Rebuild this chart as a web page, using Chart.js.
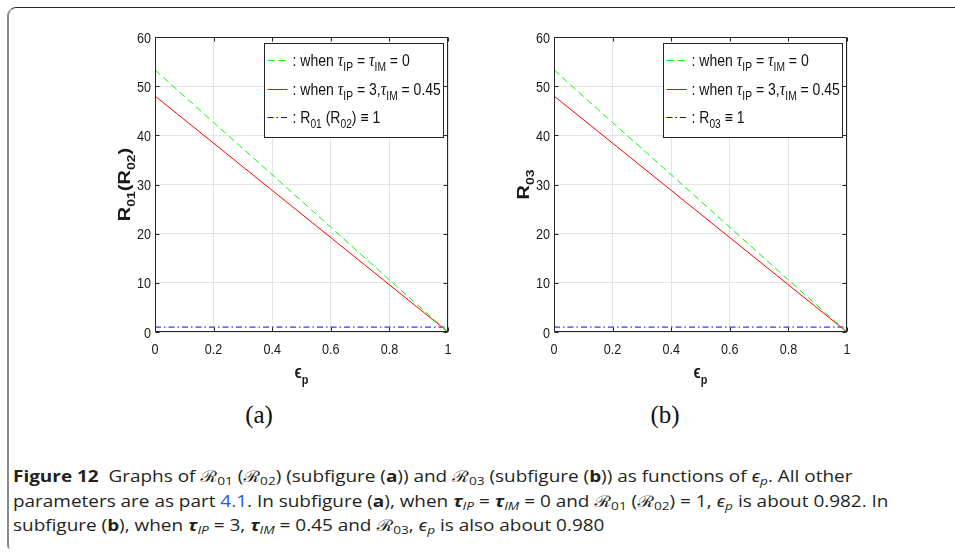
<!DOCTYPE html>
<html><head><meta charset="utf-8">
<script src="https://cdn.jsdelivr.net/npm/chart.js@4.4.0/dist/chart.umd.min.js"></script>
<style>
html,body{margin:0;padding:0;background:#fff;}
body{width:955px;height:553px;overflow:hidden;position:relative;font-family:'Open Sans','Noto Sans',sans-serif;}
#frame{position:absolute;left:7px;top:7px;width:1000px;height:541px;border-left:2px solid #8a8a8a;border-top:1px solid #2a2a2a;border-top-left-radius:9px;border-bottom-left-radius:4px;}
canvas{position:absolute;}
.sub{position:absolute;width:100px;text-align:center;font-family:'Liberation Serif',serif;font-size:25px;line-height:30px;color:#111;top:400px;}
.ln{position:absolute;left:13px;white-space:nowrap;font-size:16px;line-height:24px;color:#231f20;transform-origin:0 0;}
.ln sub{font-size:0.72em;vertical-align:-0.25em;line-height:0;}
.cal{font-family:'DejaVu Serif','Noto Sans',serif;font-style:italic;}
.lnk{color:#2a5bd7;}
</style>
</head><body>
<div id="frame"></div>
<canvas id="ca" width="380" height="380" style="left:90px;top:20px"></canvas>
<canvas id="cb" width="380" height="380" style="left:489px;top:20px"></canvas>
<div class="sub" style="left:209px">(a)</div>
<div class="sub" style="left:615px">(b)</div>
<div class="ln" id="l1" style="top:464px"><b>Figure 12</b>&nbsp; Graphs of <span class="cal">ℛ</span><sub>01</sub> (<span class="cal">ℛ</span><sub>02</sub>) (subfigure (<b>a</b>)) and <span class="cal">ℛ</span><sub>03</sub> (subfigure (<b>b</b>)) as functions of <i>ϵ<sub>p</sub></i>. All other</div>
<div class="ln" id="l2" style="top:488.5px">parameters are as part <span class="lnk">4.1</span>. In subfigure (<b>a</b>), when <b><i>τ</i></b><sub><i>IP</i></sub> = <b><i>τ</i></b><sub><i>IM</i></sub> = 0 and <span class="cal">ℛ</span><sub>01</sub> (<span class="cal">ℛ</span><sub>02</sub>) = 1, <i>ϵ<sub>p</sub></i> is about 0.982. In</div>
<div class="ln" id="l3" style="top:513px">subfigure (<b>b</b>), when <b><i>τ</i></b><sub><i>IP</i></sub> = 3, <b><i>τ</i></b><sub><i>IM</i></sub> = 0.45 and <span class="cal">ℛ</span><sub>03</sub>, <i>ϵ<sub>p</sub></i> is also about 0.980</div>
<script>
// ---- data ----
const xValues = [0, 0.2, 0.4, 0.6, 0.8, 1];
const greenA = [53.3, 42.6, 32.0, 21.3, 10.6, 0];
const redA   = [48.0, 38.4, 28.8, 19.2, 9.6, 0];
const blueA  = [1, 1, 1, 1, 1, 1];
const greenB = [53.3, 42.6, 32.0, 21.3, 10.6, 0];
const redB   = [48.0, 38.4, 28.8, 19.2, 9.6, 0];
const blueB  = [1, 1, 1, 1, 1, 1];
const xTickValues = [0, 0.2, 0.4, 0.6, 0.8, 1];
const xTickLabels = ['0', '0.2', '0.4', '0.6', '0.8', '1'];
const yTickValues = [0, 10, 20, 30, 40, 50, 60];
const yTickLabels = ['0', '10', '20', '30', '40', '50', '60'];
const legendA = [': when τ_{IP} = τ_{IM} = 0', ': when τ_{IP} = 3,τ_{IM} = 0.45', ': R_{01} (R_{02}) ≡ 1'];
const legendB = [': when τ_{IP} = τ_{IM} = 0', ': when τ_{IP} = 3,τ_{IM} = 0.45', ': R_{03} ≡ 1'];
const yTitleA = 'R_{01}(R_{02})';
const yTitleB = 'R_{03}';
const xTitle = 'ϵ_{p}';

const SANS = '"Liberation Sans",Arial,Helvetica,sans-serif';
const AX = '#262626';
const SQ = 0.84; // horizontal squeeze of the exported figure

function parseRich(s){
  const segs=[]; let i=0;
  while(i<s.length){
    if(s[i]==='_' && s[i+1]==='{'){ const j=s.indexOf('}',i); segs.push({t:s.slice(i+2,j),sub:true}); i=j+1; }
    else { let j=i; while(j<s.length && !(s[j]==='_'&&s[j+1]==='{')) j++;
      s.slice(i,j).split(/(τ)/).forEach(p=>{ if(p) segs.push({t:p,greek:p==='τ'}); }); i=j; }
  }
  return segs;
}
function fontFor(s,size,bold){
  const fs = s.sub ? Math.round(size*0.72) : size;
  if(s.greek) return `italic ${fs+2}px "Liberation Serif",serif`;
  return `${bold?'bold ':''}${fs}px ${SANS}`;
}
function richWidth(ctx,segs,size,bold){ let w=0; for(const s of segs){ ctx.font=fontFor(s,size,bold); w+=ctx.measureText(s.t).width; } return w; }
function drawRich(ctx,segs,x,y,size,bold){
  ctx.textBaseline='alphabetic'; ctx.textAlign='left';
  let cx=x;
  for(const s of segs){ ctx.font=fontFor(s,size,bold); ctx.fillText(s.t,cx,y+(s.sub?size*0.34:0)); cx+=ctx.measureText(s.t).width; }
}

const matlabPlugin = {
  id:'matlab',
  afterDatasetsDraw(chart){
    const {ctx, chartArea:a, scales} = chart;
    const o = chart.options.plugins.matlab;
    ctx.save();
    ctx.strokeStyle=AX; ctx.lineWidth=1;
    const L=Math.round(a.left)+0.5, R=Math.round(a.right)-0.5, T=Math.round(a.top)+0.5, B=Math.round(a.bottom)-0.5;
    ctx.beginPath(); ctx.rect(L,T,R-L,B-T); ctx.stroke();
    ctx.beginPath();
    xTickValues.forEach(v=>{ const p=Math.round(scales.x.getPixelForValue(v))+0.5; ctx.moveTo(p,B); ctx.lineTo(p,B-4); ctx.moveTo(p,T); ctx.lineTo(p,T+4); });
    yTickValues.forEach(v=>{ const p=Math.round(scales.y.getPixelForValue(v))+0.5; ctx.moveTo(L,p); ctx.lineTo(L+4,p); ctx.moveTo(R,p); ctx.lineTo(R-4,p); });
    ctx.stroke();
    // tick labels (squeezed like the exported figure)
    ctx.fillStyle='#1a1a1a'; ctx.font=`15px ${SANS}`; ctx.textBaseline='alphabetic';
    xTickValues.forEach((v,i)=>{
      ctx.save(); ctx.translate(scales.x.getPixelForValue(v), a.bottom+22); ctx.scale(SQ,1);
      ctx.textAlign='center'; ctx.fillText(xTickLabels[i],0,0); ctx.restore();
    });
    yTickValues.forEach((v,i)=>{
      ctx.save(); ctx.translate(a.left-4, scales.y.getPixelForValue(v)+5.5); ctx.scale(SQ,1);
      ctx.textAlign='right'; ctx.fillText(yTickLabels[i],0,0); ctx.restore();
    });
    // x title
    const xs=parseRich(xTitle), xw=richWidth(ctx,xs,18,true)*SQ;
    ctx.save(); ctx.translate((a.left+a.right)/2-xw/2, a.bottom+46); ctx.scale(SQ,1);
    drawRich(ctx,xs,0,0,18,true); ctx.restore();
    // y title (rotated; squeeze applies to glyph height)
    const ys=parseRich(o.yTitle), yw=richWidth(ctx,ys,20,true);
    ctx.save(); ctx.translate(39.5,(a.top+a.bottom)/2); ctx.rotate(-Math.PI/2); ctx.scale(1,SQ);
    drawRich(ctx,ys,-yw/2,0,20,true); ctx.restore();
    // legend
    const LF=16.5, LS=0.85;
    const ds=chart.data.datasets;
    const segsList=ds.map(d=>parseRich(d.label));
    let tw=0; segsList.forEach(s=>{ tw=Math.max(tw,richWidth(ctx,s,LF,false)*LS); });
    const bw=Math.round(28+tw+3), bh=94;
    const bx=Math.round(a.right)-5-bw+0.5, by=Math.round(a.top)+6+0.5;
    ctx.fillStyle='#fff'; ctx.fillRect(bx,by,bw,bh);
    ctx.strokeStyle=AX; ctx.strokeRect(bx,by,bw,bh);
    const rows=[17,46,74];
    ds.forEach((d,i)=>{
      ctx.save(); ctx.strokeStyle=d.borderColor; ctx.lineWidth=1; ctx.setLineDash(d.borderDash||[]);
      ctx.beginPath(); ctx.moveTo(bx+3,by+rows[i]); ctx.lineTo(bx+23,by+rows[i]); ctx.stroke(); ctx.restore();
      ctx.save(); ctx.fillStyle='#111'; ctx.translate(bx+28, by+rows[i]+5); ctx.scale(LS,1);
      drawRich(ctx,segsList[i],0,0,LF,false); ctx.restore();
    });
    ctx.restore();
  }
};

function pts(ys){ return xValues.map((x,i)=>({x:x,y:ys[i]})); }

function makeChart(id, green, red, blue, legend, yTitle){
  return new Chart(document.getElementById(id), {
    type:'line',
    data:{datasets:[
      {label:legend[0], data:pts(green), borderColor:'#00ff00', borderDash:[7,4], borderWidth:1, pointRadius:0, tension:0, fill:false},
      {label:legend[1], data:pts(red), borderColor:'#ff0000', borderWidth:1, pointRadius:0, tension:0, fill:false},
      {label:legend[2], data:pts(blue), borderColor:'#0000ff', borderDash:[6,3,1.5,3], borderWidth:1, pointRadius:0, tension:0, fill:false}
    ]},
    options:{
      responsive:false, animation:false, devicePixelRatio:1,
      layout:{padding:{top:17,right:22,left:0,bottom:0}},
      plugins:{legend:{display:false}, tooltip:{enabled:false}, matlab:{yTitle:yTitle}},
      scales:{
        x:{type:'linear', min:0, max:1,
           afterBuildTicks(s){ s.ticks=xTickValues.map(v=>({value:v})); },
           ticks:{display:false},
           grid:{color:'#e4e4e4', drawTicks:false, lineWidth:1}, border:{display:false},
           afterFit(s){ s.height=68; }},
        y:{type:'linear', min:0, max:60,
           afterBuildTicks(s){ s.ticks=yTickValues.map(v=>({value:v})); },
           ticks:{display:false},
           grid:{color:'#e4e4e4', drawTicks:false, lineWidth:1}, border:{display:false},
           afterFit(s){ s.width=65; }}
      }
    },
    plugins:[matlabPlugin]
  });
}
makeChart('ca', greenA, redA, blueA, legendA, yTitleA);
makeChart('cb', greenB, redB, blueB, legendB, yTitleB);

// fit caption width
(function(){
  const l1=document.getElementById('l1');
  const s=(852-13)/l1.scrollWidth;
  ['l1','l2','l3'].forEach(id=>{ document.getElementById(id).style.transform='scaleX('+s.toFixed(4)+')'; });
})();
</script>
</body></html>
